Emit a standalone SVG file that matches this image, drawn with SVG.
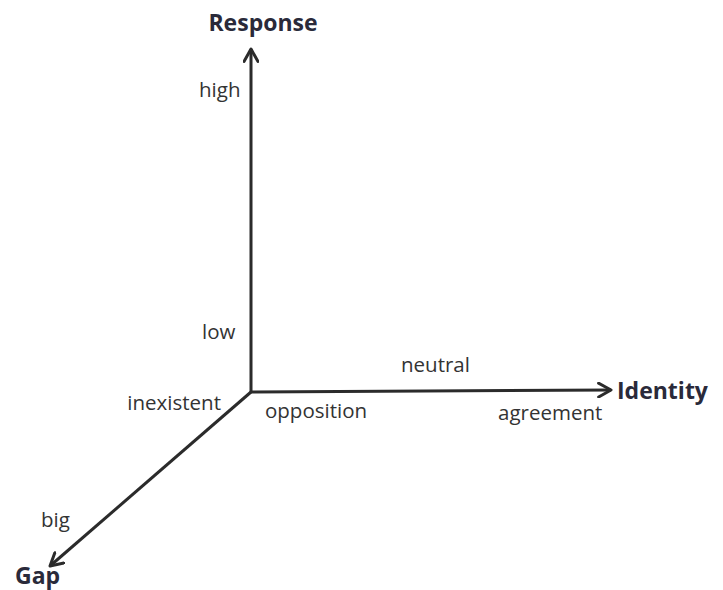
<svg xmlns="http://www.w3.org/2000/svg" width="723" height="590" viewBox="0 0 723 590">
  <style>
    .axis { stroke: #2b2b2b; stroke-width: 3; fill: none; }
    .lbl { font-family: "Open Sans", "Liberation Sans", sans-serif; font-size: 20.5px; fill: #333333; }
    .title { font-family: "Open Sans", "Liberation Sans", sans-serif; font-size: 23px; font-weight: bold; fill: #2a2a3a; }
  </style>
  <defs>
    <marker id="head" viewBox="0 0 12 12" refX="10" refY="6" markerWidth="5.5" markerHeight="5.5" orient="auto" markerUnits="strokeWidth">
      <path d="M1,1 L10,6 L1,11" fill="none" stroke="#2b2b2b" stroke-width="2.2" stroke-linecap="round" stroke-linejoin="round"/>
    </marker>
  </defs>
  <rect width="723" height="590" fill="#ffffff"/>
  <g id="connectors">
    <line class="axis" x1="251" y1="392" x2="251" y2="49" marker-end="url(#head)"/>
    <line class="axis" x1="251" y1="392" x2="611" y2="390" marker-end="url(#head)"/>
    <line class="axis" x1="251" y1="392" x2="50" y2="566" marker-end="url(#head)"/>
  </g>
  <g id="response">
    <text class="title" x="263" y="31" text-anchor="middle">Response</text>
  </g>
  <g id="identity">
    <text class="title" x="617" y="399">Identity</text>
  </g>
  <g id="gap">
    <text class="title" x="15" y="584">Gap</text>
  </g>
  <g id="labels">
    <text class="lbl" x="199" y="97">high</text>
    <text class="lbl" x="202" y="339">low</text>
    <text class="lbl" x="221" y="410" text-anchor="end">inexistent</text>
    <text class="lbl" x="265" y="418">opposition</text>
    <text class="lbl" x="401" y="372">neutral</text>
    <text class="lbl" x="498" y="420">agreement</text>
    <text class="lbl" x="41" y="527">big</text>
  </g>
</svg>
